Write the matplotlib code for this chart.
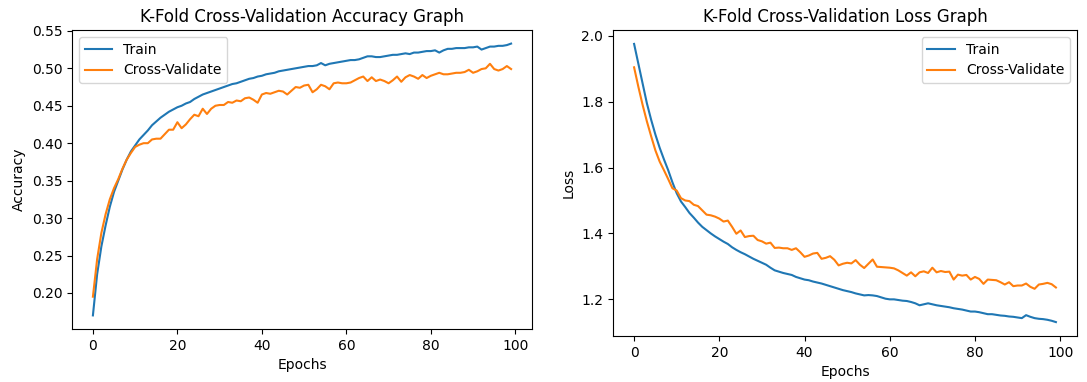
import matplotlib
matplotlib.use("Agg")
import matplotlib.pyplot as plt

epochs = list(range(100))

train_acc = [
    0.170, 0.225, 0.262, 0.290, 0.315, 0.335, 0.350, 0.365, 0.378, 0.389,
    0.397, 0.405, 0.411, 0.417, 0.424, 0.429, 0.434, 0.438, 0.442, 0.445,
    0.448, 0.450, 0.453, 0.455, 0.459, 0.462, 0.465, 0.467, 0.469, 0.471,
    0.473, 0.475, 0.477, 0.479, 0.480, 0.482, 0.484, 0.486, 0.487, 0.489,
    0.490, 0.492, 0.493, 0.494, 0.496, 0.497, 0.498, 0.499, 0.500, 0.501,
    0.502, 0.503, 0.503, 0.504, 0.507, 0.504, 0.506, 0.507, 0.508, 0.509,
    0.510, 0.511, 0.511, 0.512, 0.514, 0.516, 0.516, 0.515, 0.515, 0.516,
    0.517, 0.518, 0.518, 0.519, 0.520, 0.519, 0.521, 0.521, 0.522, 0.523,
    0.523, 0.524, 0.521, 0.524, 0.526, 0.526, 0.527, 0.527, 0.527, 0.528,
    0.528, 0.529, 0.525, 0.527, 0.529, 0.529, 0.530, 0.530, 0.531, 0.533,
]
val_acc = [
    0.195, 0.245, 0.280, 0.305, 0.325, 0.340, 0.352, 0.366, 0.378, 0.387,
    0.395, 0.398, 0.400, 0.400, 0.405, 0.406, 0.406, 0.412, 0.418, 0.418,
    0.428, 0.420, 0.425, 0.432, 0.438, 0.436, 0.446, 0.439, 0.446, 0.450,
    0.451, 0.451, 0.455, 0.454, 0.457, 0.456, 0.460, 0.461, 0.458, 0.454,
    0.465, 0.467, 0.466, 0.468, 0.470, 0.469, 0.465, 0.470, 0.475, 0.474,
    0.477, 0.478, 0.468, 0.472, 0.478, 0.476, 0.472, 0.480, 0.481, 0.480,
    0.480, 0.481, 0.484, 0.487, 0.489, 0.483, 0.488, 0.483, 0.485, 0.483,
    0.480, 0.484, 0.489, 0.482, 0.488, 0.491, 0.489, 0.486, 0.491, 0.487,
    0.490, 0.492, 0.494, 0.492, 0.492, 0.493, 0.494, 0.494, 0.495, 0.498,
    0.494, 0.496, 0.499, 0.500, 0.506, 0.499, 0.497, 0.499, 0.503, 0.499,
]
train_loss = [
    1.975, 1.915, 1.855, 1.795, 1.745, 1.700, 1.660, 1.625, 1.592, 1.555,
    1.522, 1.497, 1.480, 1.462, 1.448, 1.433, 1.420, 1.410, 1.400, 1.391,
    1.383, 1.375, 1.368, 1.358, 1.350, 1.343, 1.337, 1.330, 1.323, 1.317,
    1.311, 1.305, 1.296, 1.288, 1.284, 1.280, 1.277, 1.274, 1.268, 1.264,
    1.260, 1.258, 1.254, 1.251, 1.248, 1.244, 1.240, 1.236, 1.232, 1.228,
    1.225, 1.222, 1.218, 1.215, 1.212, 1.213, 1.212, 1.210, 1.206, 1.202,
    1.200, 1.200, 1.198, 1.196, 1.195, 1.192, 1.188, 1.182, 1.185, 1.188,
    1.185, 1.182, 1.180, 1.178, 1.176, 1.173, 1.171, 1.169, 1.166, 1.163,
    1.163, 1.161, 1.158, 1.155, 1.155, 1.153, 1.151, 1.150, 1.148, 1.147,
    1.145, 1.143, 1.152, 1.147, 1.143, 1.141, 1.140, 1.138, 1.135, 1.131,
]
val_loss = [
    1.904, 1.845, 1.790, 1.740, 1.695, 1.652, 1.618, 1.592, 1.565, 1.537,
    1.530, 1.507, 1.500, 1.498, 1.487, 1.483, 1.470, 1.457, 1.455, 1.451,
    1.445, 1.436, 1.439, 1.420, 1.399, 1.409, 1.389, 1.392, 1.393, 1.380,
    1.376, 1.369, 1.372, 1.356, 1.357, 1.355, 1.355, 1.350, 1.355, 1.343,
    1.329, 1.333, 1.339, 1.341, 1.323, 1.326, 1.331, 1.320, 1.303, 1.308,
    1.311, 1.309, 1.319, 1.305, 1.295, 1.308, 1.321, 1.299, 1.298, 1.297,
    1.296, 1.294, 1.288, 1.280, 1.272, 1.282, 1.270, 1.282, 1.285, 1.280,
    1.296, 1.282, 1.286, 1.283, 1.284, 1.260, 1.275, 1.272, 1.274, 1.260,
    1.268, 1.262, 1.247, 1.260, 1.259, 1.258, 1.252, 1.245, 1.252, 1.240,
    1.242, 1.242, 1.248, 1.238, 1.232, 1.245, 1.247, 1.250, 1.246, 1.236,
]

W, H = 1087, 382
fig = plt.figure(figsize=(W / 100, H / 100), dpi=100)
ax1 = fig.add_axes([72 / W, (H - 329) / H, 460 / W, 299 / H])
ax2 = fig.add_axes([613 / W, (H - 336) / H, 464 / W, 306 / H])

ax1.plot(epochs, train_acc, label="Train")
ax1.plot(epochs, val_acc, label="Cross-Validate")
ax1.set_title("K-Fold Cross-Validation Accuracy Graph", fontsize=12)
ax1.set_xlabel("Epochs")
ax1.set_ylabel("Accuracy")
ax1.legend(loc="upper left")

ax2.plot(epochs, train_loss, label="Train")
ax2.plot(epochs, val_loss, label="Cross-Validate")
ax2.set_title("K-Fold Cross-Validation Loss Graph", fontsize=12)
ax2.set_xlabel("Epochs")
ax2.set_ylabel("Loss")
ax2.legend(loc="upper right")

fig.savefig("out.png", dpi=100)
